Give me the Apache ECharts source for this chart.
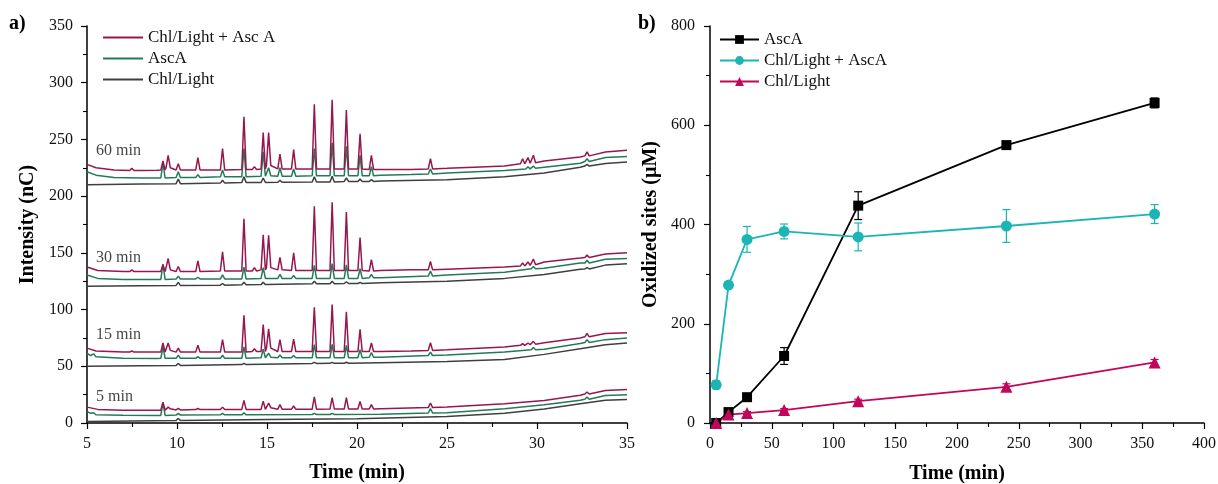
<!DOCTYPE html>
<html><head><meta charset="utf-8">
<script src="https://cdn.jsdelivr.net/npm/echarts@6/dist/echarts.min.js"></script>
<style>html,body{margin:0;padding:0;background:#fff}#c{width:1218px;height:484px}</style>
</head><body><div id="c"></div>
<script>
// ---------- Panel a) data: chromatogram traces (time in min, intensity in nC) ----------
const traceNames = ['Chl/Light + Asc A', 'AscA', 'Chl/Light'];
const groupLabels = ['60 min', '30 min', '15 min', '5 min'];
const groupLabelAt = [[5.5, 240], [5.5, 146], [5.5, 78], [5.5, 23.5]];

// baseline knots [t, nC]; peaks [t, apex, local baseline]
const C60_base = [[5,228],[5.5,225],[6.5,223],[8,222.5],[8.9,222.8],[21.3,223.5],[23,223.5],[25,224.5],[26.5,225.5],[28.2,226.5],[30.4,231],[32.4,234.5],[33.8,239],[35,240.5]];
const C60_peaks = [[7.49,224.5,222.6],[9.22,231,223],[9.51,236,225],[10.07,228.5,223],[11.16,234,223],[12.53,242,223],[13.72,270,223.5],[14.3,226,223.5],[14.79,256,224],[15.09,256,227],[15.72,237,224],[16.48,241,224],[17.63,281,224],[18.62,285,224],[19.41,276,224],[20.17,255,224],[20.8,236,223.5],[24.08,233,224],[29.2,233,228.5],[29.5,234,229],[29.8,236,229.5],[32.78,239,235.5]];
const G60_base = [[5,221.5],[5.5,218.5],[6.5,216.5],[8,216],[21.3,218.5],[23,219],[25,220.5],[28.2,222.5],[30.4,225.5],[32.4,229],[33.8,234],[35,235]];
const G60_peaks = [[9.22,229,216],[10.07,221.5,216.5],[11.16,219,216.5],[12.53,223,217],[13.72,242,217],[14.79,239,217.5],[15.09,225,218],[15.72,225,217.5],[16.48,224,217.5],[17.63,242,218],[18.62,247,218],[19.41,244,218],[20.17,236,218],[20.8,226,218],[24.08,224,219.5],[29.5,226,224],[29.8,226.5,224.5],[32.78,233,230.5]];
const K60_base = [[5,210],[8,210.6],[21.3,213.3],[25,214.5],[28.2,217],[30.4,220.5],[32.4,225.5],[33.8,228.8],[35,230]];
const K60_peaks = [[10.07,215,211],[12.53,214,211.5],[13.72,217,212],[14.79,216,212],[15.72,214,212.2],[17.63,217,212.5],[18.62,217.5,212.5],[19.41,216,213],[20.17,215,213],[20.8,214.5,213],[32.78,228,226.5]];

const C30_base = [[5,137.5],[5.6,134.5],[7,133.5],[8.9,133.5],[21.3,134.5],[23,135],[25,135.5],[28.2,137.5],[30.4,142],[32.4,145.5],[33.8,149],[35,150]];
const C30_peaks = [[7.49,135,133.5],[9.22,139.5,133.5],[9.51,145,135],[10.07,138,133.5],[11.16,143,133.5],[12.53,151,134],[13.72,180,134],[14.3,137,134],[14.79,166,135],[15.09,165.5,137],[15.72,146,135],[16.48,150,134.5],[17.63,191,134.5],[18.62,194.5,134.5],[19.41,186,134.5],[20.17,163.5,134.5],[20.8,144,134],[24.08,142.5,135],[29.2,141,138.5],[29.5,142,139],[29.8,144.5,139.5],[32.78,148,146]];
const G30_base = [[5,130.5],[5.6,127.5],[7,126.5],[8.9,126.5],[21.3,128],[25,130.5],[28.2,133],[30.4,136.5],[32.4,141],[33.8,144.3],[35,145]];
const G30_peaks = [[9.22,140,126.5],[10.07,129.5,127],[11.16,128.5,127],[12.53,130.5,127],[13.72,137.5,127],[14.79,137,127.5],[15.72,131,127.5],[16.48,130,127.5],[17.63,139,127.5],[18.62,140.5,127.5],[19.41,139.5,127.5],[20.17,136,127.5],[20.8,131,128],[24.08,134,129.5],[29.8,138,136],[32.78,143.5,141]];
const K30_base = [[5,120.5],[8,121],[21.3,123.6],[25,125],[28.2,127.5],[30.4,131],[32.4,135.5],[33.8,139.2],[35,140.4]];
const K30_peaks = [[10.07,124,121.3],[12.53,123,121.5],[13.72,124,121.8],[14.79,124,122],[17.63,125,122.7],[18.62,125,122.8],[19.41,124.5,123],[20.17,124,123],[32.78,137,135.8]];

const C15_base = [[5,66],[5.5,63.5],[7,62.5],[8.9,62.5],[21.3,63],[23,63.5],[25,64.5],[28.2,67],[30.4,70.8],[32.4,75],[33.8,79],[35,79.6]];
const C15_peaks = [[7.49,63.5,62.5],[9.22,70.5,62.5],[9.51,70.5,64],[10.07,66,62.5],[11.16,68.5,62.5],[12.53,73.5,62.5],[13.72,95,62.5],[14.3,65.5,63],[14.79,86.7,63],[15.09,83,66],[15.72,73.5,63],[16.48,74,63],[17.63,102,63],[18.62,104.5,63],[19.41,98,63],[20.17,82.5,63],[20.8,70.5,63],[24.08,70.8,64],[29.2,70,68.5],[29.5,70.5,69],[29.8,72,69.5],[32.78,79,76]];
const G15_base = [[5,61.5],[5.2,59.5],[5.6,58],[7,57],[8.9,56.8],[21.3,58],[25,60],[28.2,62.5],[30.4,65],[32.4,70],[33.8,73.5],[35,75]];
const G15_peaks = [[5.37,61,58.5],[9.22,67,57],[10.07,59.7,57],[11.16,58.5,57],[12.53,59.7,57],[13.72,67,57],[14.79,65,57.5],[15.09,61.5,58],[15.72,60,57.5],[16.48,59.5,57.5],[17.63,69,57.5],[18.62,69.3,57.5],[19.41,68.4,57.5],[20.17,64.6,57.5],[20.8,62,58],[24.08,62.5,59.5],[29.8,66.5,64.5],[32.78,73.5,71]];
const K15_base = [[5,50],[8,50.5],[21.3,53.2],[25,54.3],[28.2,56],[30.4,60.5],[32.4,65.5],[33.8,69],[35,70.5]];
const K15_peaks = [[10.07,52.5,50.8],[13.72,52.5,51.5],[17.63,53.5,52.5],[18.62,53.5,52.6],[19.41,53.5,52.7]];

const C5_base = [[5,14],[5.6,12],[7,11.2],[8.9,11.3],[21.3,12.6],[25,14],[28.2,17],[30.4,19.8],[32.4,24.5],[33.8,28.7],[35,29.6]];
const C5_peaks = [[9.22,18.4,11.3],[9.51,14,12.5],[10.07,12.8,11.5],[11.16,12.8,11.8],[12.53,14,11.8],[13.72,20,12],[14.79,19.3,12],[15.09,17.6,13.5],[15.72,16.2,12.2],[16.48,15,12.2],[17.63,23,12.2],[18.62,22.3,12.3],[19.41,22.3,12.3],[20.17,19,12.4],[20.8,16.2,12.4],[24.08,17.6,13.6],[32.78,27.3,25.5]];
const G5_base = [[5,10.2],[5.2,8.5],[5.6,7.5],[7,6.8],[8.9,6.7],[21.3,7.8],[25,9],[28.2,12.6],[30.4,16],[32.4,20],[33.8,24.3],[35,25]];
const G5_peaks = [[5.37,9,7.3],[9.22,18,6.7],[10.07,8.5,7],[12.53,8.5,7.2],[13.72,9,7.2],[17.63,8.5,7.5],[18.62,8.5,7.5],[24.08,12.6,8.8],[32.78,23,21]];
const K5_base = [[5,1.4],[10,2.3],[15,3],[20,3.8],[25,5.8],[28.2,8.5],[30.4,12.3],[32.4,17],[33.8,20],[35,20.8]];
const K5_peaks = [[10.07,4,2.3]];

// ---------- Panel b) data ----------
const timesB = [5, 15, 30, 60, 120, 240, 360];
const ascA = [0, 22, 52, 135, 438, 560, 645];
const ascAErr = [0, 4, 6, 17, 28, 6, 10];
const chlAsc = [77, 278, 370, 386, 375, 397, 421];
const chlAscErr = [8, 5, 26, 15, 28, 33, 19];
const chlLight = [0, 17, 20, 26, 44, 73, 122];
const chlLightErr = [0, 3, 3, 3, 4, 6, 6];
const namesB = ['AscA', 'Chl/Light + AscA', 'Chl/Light'];

// ---------- styles ----------
const FONT = '"Liberation Serif", "Times New Roman", serif';
const colA = ['#98164e', '#237a56', '#3f3f3f'];
const colB = ['#000000', '#1cb5b5', '#c0075a'];
const PEAK_HW = 0.12;

function expand(base, peaks) {
  const pts = base.map(p => [p[0], p[1]]);
  peaks.forEach(([t, a, f]) => { pts.push([t - PEAK_HW, f], [t, a], [t + PEAK_HW, f]); });
  pts.sort((p, q) => p[0] - q[0]);
  return pts;
}

const tracesA = [
  [K60_base, K60_peaks, 2], [G60_base, G60_peaks, 1], [C60_base, C60_peaks, 0],
  [K30_base, K30_peaks, 2], [G30_base, G30_peaks, 1], [C30_base, C30_peaks, 0],
  [K15_base, K15_peaks, 2], [G15_base, G15_peaks, 1], [C15_base, C15_peaks, 0],
  [K5_base, K5_peaks, 2], [G5_base, G5_peaks, 1], [C5_base, C5_peaks, 0]
];

const series = [];
tracesA.forEach(([b, p, k]) => {
  series.push({
    type: 'line', name: traceNames[k], xAxisIndex: 0, yAxisIndex: 0,
    data: expand(b, p), symbol: 'none', smooth: false,
    lineStyle: { color: colA[k], width: 1.5 }, itemStyle: { color: colA[k] },
    silent: true, z: 3 - k
  });
});
series.push({
  type: 'scatter', xAxisIndex: 0, yAxisIndex: 0, symbolSize: 0, silent: true,
  data: groupLabelAt.map((p, i) => ({ value: p, name: groupLabels[i] })),
  label: { show: true, position: 'right', distance: 0, formatter: d => d.name,
           fontFamily: FONT, fontSize: 16, color: '#111' }
});

const valsB = [ascA, chlAsc, chlLight];
const errsB = [ascAErr, chlAscErr, chlLightErr];
const symB = ['rect', 'circle', 'triangle'];
const symSizeB = [10, 11, 12];
valsB.forEach((vals, k) => {
  const color = colB[k];
  series.push({
    type: 'custom', xAxisIndex: 1, yAxisIndex: 1, silent: true, z: 2,
    data: timesB.map((t, i) => [t, vals[i], errsB[k][i]]),
    renderItem: (params, api) => {
      const x = api.value(0), y = api.value(1), e = api.value(2);
      if (!e) return null;
      const top = api.coord([x, y + e]), bot = api.coord([x, y - e]);
      const hw = 4;
      const st = { stroke: color, lineWidth: 1.2 };
      return { type: 'group', children: [
        { type: 'line', shape: { x1: top[0], y1: top[1], x2: bot[0], y2: bot[1] }, style: st },
        { type: 'line', shape: { x1: top[0] - hw, y1: top[1], x2: top[0] + hw, y2: top[1] }, style: st },
        { type: 'line', shape: { x1: bot[0] - hw, y1: bot[1], x2: bot[0] + hw, y2: bot[1] }, style: st }
      ]};
    }
  });
  series.push({
    type: 'line', name: namesB[k] + ' ', xAxisIndex: 1, yAxisIndex: 1,
    data: timesB.map((t, i) => [t, vals[i]]),
    symbol: symB[k], symbolSize: symSizeB[k], showSymbol: true,
    lineStyle: { color, width: 1.8 }, itemStyle: { color }, z: 5, silent: true
  });
});

function axisCommon(extra, labelMargin) {
  return Object.assign({
    axisLine: { show: true, onZero: false, lineStyle: { color: '#000', width: 1.5 } },
    axisTick: { show: true, length: 6, lineStyle: { color: '#000', width: 1.2 } },
    minorTick: { show: true, splitNumber: 2, length: 4, lineStyle: { color: '#000', width: 1.1 } },
    splitLine: { show: false },
    axisLabel: { color: '#111', fontFamily: FONT, fontSize: 16, margin: labelMargin },
    nameLocation: 'middle',
    nameTextStyle: { color: '#000', fontFamily: FONT, fontSize: 20, fontWeight: 'bold' }
  }, extra);
}

const option = {
  animation: false,
  backgroundColor: '#fff',
  textStyle: { fontFamily: FONT },
  grid: [
    { left: 87, top: 26, width: 540, height: 397, containLabel: false, outerBoundsMode: 'none' },
    { left: 710, top: 26, width: 494, height: 397, containLabel: false, outerBoundsMode: 'none' }
  ],
  xAxis: [
    axisCommon({ type: 'value', gridIndex: 0, min: 5, max: 35, interval: 5, name: 'Time (min)', nameGap: 40 }, 13),
    axisCommon({ type: 'value', gridIndex: 1, min: 0, max: 400, interval: 50, name: 'Time (min)', nameGap: 41 }, 13)
  ],
  yAxis: [
    axisCommon({ type: 'value', gridIndex: 0, min: 0, max: 350, interval: 50, name: 'Intensity (nC)', nameGap: 49 }, 14),
    axisCommon({ type: 'value', gridIndex: 1, min: 0, max: 800, interval: 200, name: 'Oxidized sites (\u00b5M)', nameGap: 49 }, 15)
  ],
  legend: [
    { data: traceNames, orient: 'vertical', left: 98, top: 22, icon: 'rect', itemWidth: 40, itemHeight: 2, itemGap: 0,
      selectedMode: false, textStyle: { fontFamily: FONT, fontSize: 17, color: '#111', lineHeight: 21 } },
    { data: namesB.map(n => n + ' '), orient: 'vertical', left: 714, top: 24, itemWidth: 39, itemHeight: 11, itemGap: 0,
      selectedMode: false, textStyle: { fontFamily: FONT, fontSize: 17, color: '#111', lineHeight: 21 } }
  ],
  graphic: [
    { type: 'text', left: 9, top: 14, style: { text: 'a)', font: 'bold 20px ' + FONT, fill: '#000' } },
    { type: 'text', left: 638, top: 14, style: { text: 'b)', font: 'bold 20px ' + FONT, fill: '#000' } }
  ],
  series
};

const chart = echarts.init(document.getElementById('c'), null, { renderer: 'canvas' });
chart.setOption(option);
</script>
</body></html>
